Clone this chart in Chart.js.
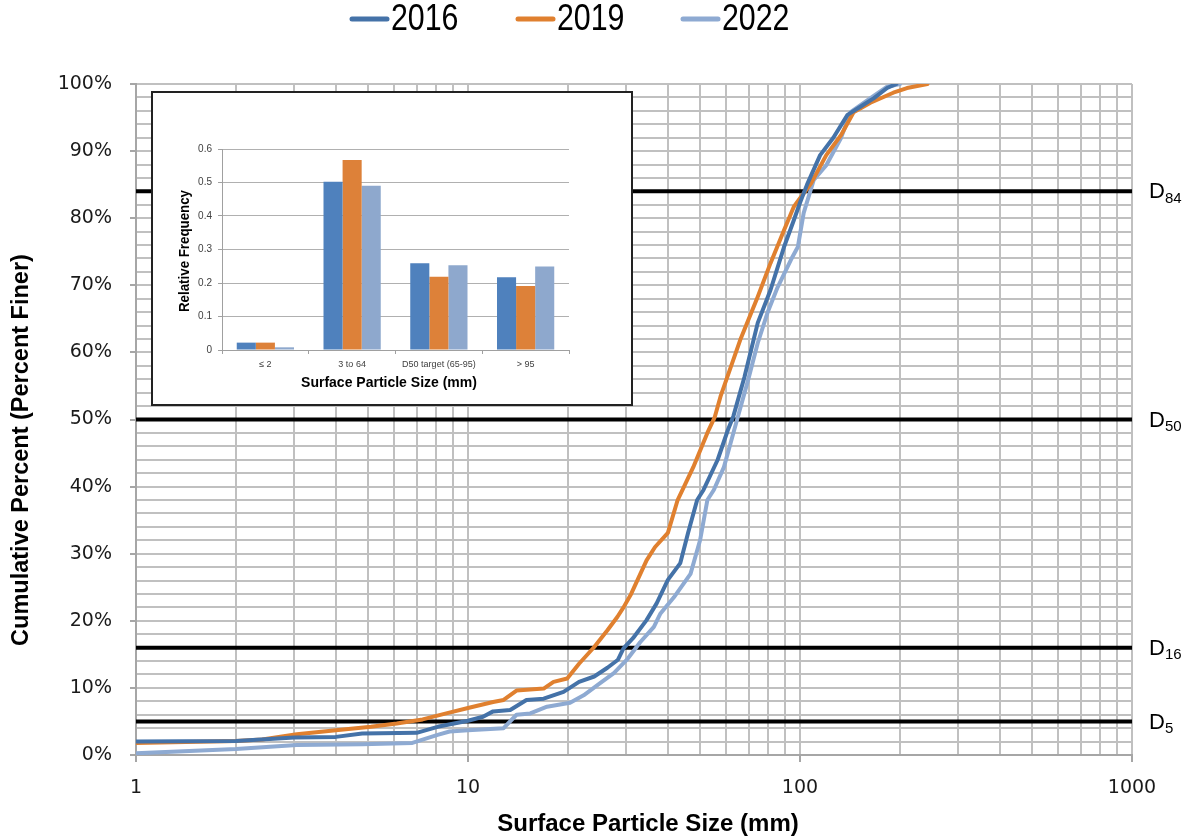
<!DOCTYPE html>
<html><head><meta charset="utf-8">
<script src="https://cdn.jsdelivr.net/npm/chart.js@4/dist/chart.umd.min.js"></script>
<style>
html,body{margin:0;padding:0;background:#fff;}
#wrap{position:relative;width:1190px;height:839px;overflow:hidden;}
#main{position:absolute;left:0;top:0;}
#inset{position:absolute;left:151px;top:91px;}
</style></head><body>
<div id="wrap">
<canvas id="main" width="1190" height="839"></canvas>
<canvas id="inset" width="482" height="315"></canvas>
</div>
<script>
// ---------- main chart data ----------
const seriesNames = ['2016', '2019', '2022'];
const x2016 = [1, 2, 3, 4, 4.8, 7, 8.1, 10, 11.1, 11.9, 13.4, 15, 16.9, 19.4, 21.6, 24, 26.3, 28.3, 29.4, 31.4, 34.5, 37, 40, 43.6, 46, 49, 51.2, 56.5, 60.6, 63, 68, 74.6, 81.5, 89.5, 95.8, 100, 105, 115, 126, 139, 152, 167, 183, 195];
const y2016 = [2.0, 2.1, 2.6, 2.7, 3.2, 3.3, 4.2, 5.1, 5.7, 6.5, 6.7, 8.2, 8.4, 9.4, 10.9, 11.7, 13.0, 14.2, 15.9, 17.4, 20.1, 22.6, 26.1, 28.6, 33.1, 38.0, 39.5, 44.0, 48.4, 50.5, 56.3, 64.4, 69.3, 75.7, 79.7, 82.3, 85.0, 89.4, 92.0, 95.4, 96.6, 97.9, 99.4, 100];
const x2019 = [1, 2, 2.4, 3.05, 4, 5.1, 6.1, 7.3, 8.6, 10, 11.9, 12.8, 14, 16.9, 18.1, 19.9, 21.6, 24, 26.3, 28.2, 29.4, 31, 34.5, 36.6, 40, 42.8, 47.7, 52.6, 55.4, 57.6, 66, 74.6, 81.5, 89.5, 95.8, 108, 120, 133, 145, 163, 191, 210, 242];
const y2019 = [1.8, 2.1, 2.3, 3.1, 3.7, 4.2, 4.7, 5.3, 6.2, 7.0, 7.9, 8.2, 9.6, 9.9, 10.9, 11.4, 13.6, 16.1, 18.6, 20.6, 22.0, 24.0, 29.0, 31.0, 33.1, 38.0, 42.9, 48.0, 50.4, 53.4, 61.8, 68.3, 73.3, 78.2, 81.7, 85.2, 89.4, 92.4, 95.8, 97.2, 98.7, 99.4, 100];
const x2022 = [1, 2, 3.05, 4.8, 6.8, 8.1, 8.8, 10, 12.8, 14, 15.4, 17.3, 20.3, 22.3, 25, 27.5, 30.1, 33, 36.3, 38, 41.7, 46.8, 50, 52.6, 55, 59, 63, 65, 69.8, 74.6, 79.8, 85.6, 93.9, 98.5, 102.6, 110, 120, 133, 142, 163, 183, 200];
const y2022 = [0.25, 0.9, 1.5, 1.6, 1.8, 3.0, 3.5, 3.7, 4.0, 6.0, 6.2, 7.2, 7.8, 8.9, 10.7, 12.2, 14.2, 16.8, 19.1, 21.1, 23.5, 27.0, 32.0, 38.0, 39.5, 42.9, 48.0, 50.4, 55.9, 61.4, 65.9, 69.7, 73.8, 75.7, 80.8, 85.7, 87.9, 92.0, 95.8, 97.9, 99.6, 100];
const dLevels = [84, 50, 16, 5];
const dSubs = ['84', '50', '16', '5'];
const xGridValues = [1,2,3,4,5,6,7,8,9,10,20,30,40,50,60,70,80,90,100,200,300,400,500,600,700,800,900,1000];
const xLabelValues = [1, 10, 100, 1000];
const yGridValues = [0,2,4,6,8,10,12,14,16,18,20,22,24,26,28,30,32,34,36,38,40,42,44,46,48,50,52,54,56,58,60,62,64,66,68,70,72,74,76,78,80,82,84,86,88,90,92,94,96,98,100];
const yLabelValues = [0, 10, 20, 30, 40, 50, 60, 70, 80, 90, 100];

// ---------- inset data ----------
const insetCats = ['≤ 2', '3 to 64', 'D50 target (65-95)', '> 95'];
const freq2016 = [0.022, 0.502, 0.259, 0.217];
const freq2019 = [0.022, 0.567, 0.219, 0.191];
const freq2022 = [0.008, 0.490, 0.253, 0.249];
const insetTicks = [0, 0.1, 0.2, 0.3, 0.4, 0.5, 0.6];

const lineColors = ['#4472a8', '#e0802f', '#8eaad2'];
const barColors = ['#4f81bd', '#dd8139', '#8ea8cd'];
const NARROW = '"Liberation Sans Narrow", "Liberation Sans", Arial, sans-serif';
const WIDE = '"DejaVu Sans", Verdana, sans-serif';

const xs = [x2016, x2019, x2022], ys = [y2016, y2019, y2022];
const datasets = seriesNames.map((n, k) => ({
  label: n,
  data: xs[k].map((x, i) => ({x: x, y: ys[k][i]})),
  borderColor: lineColors[k], backgroundColor: lineColors[k],
  borderWidth: 4, pointRadius: 0, tension: 0, order: 1,
  borderJoinStyle: 'round', borderCapStyle: 'round'
}));
dLevels.forEach((d, i) => datasets.push({
  label: 'D' + dSubs[i],
  data: [{x: xGridValues[0], y: d}, {x: xGridValues[xGridValues.length - 1], y: d}],
  borderColor: '#000', borderWidth: 4, pointRadius: 0, order: 5, borderCapStyle: 'butt'
}));

// draw horizontally condensed text (mimics a narrow face)
function narrowText(ctx, txt, x, y, sx) {
  ctx.save(); ctx.translate(x, y); ctx.scale(sx, 1); ctx.fillText(txt, 0, 0); ctx.restore();
}

const legendMarkers = [350, 516, 681];
const mainText = {
  id: 'mainText',
  afterDraw(chart) {
    const ctx = chart.ctx; const ya = chart.scales.y;
    ctx.save();
    // legend
    ctx.font = '37px ' + NARROW;
    const ly = 19;
    seriesNames.forEach((n, i) => {
      const x = legendMarkers[i];
      ctx.strokeStyle = lineColors[i]; ctx.lineWidth = 5; ctx.lineCap = 'round';
      ctx.beginPath(); ctx.moveTo(x + 2, ly); ctx.lineTo(x + 37, ly); ctx.stroke();
      ctx.fillStyle = '#000'; ctx.textBaseline = 'middle'; ctx.textAlign = 'left';
      narrowText(ctx, n, x + 41, ly + 1, 0.82);
    });
    // axis titles
    ctx.fillStyle = '#000';
    ctx.textAlign = 'center'; ctx.textBaseline = 'middle';
    ctx.font = 'bold 24px ' + NARROW;
    narrowText(ctx, 'Surface Particle Size (mm)', 648, 824, 1.0);
    ctx.font = 'bold 23.5px ' + NARROW;
    ctx.save(); ctx.translate(22, 450); ctx.rotate(-Math.PI / 2);
    ctx.fillText('Cumulative Percent (Percent Finer)', 0, 0); ctx.restore();
    // D labels
    dLevels.forEach((d, i) => {
      const py = ya.getPixelForValue(d);
      ctx.textAlign = 'left'; ctx.textBaseline = 'middle';
      ctx.font = '22px ' + NARROW; ctx.fillText('D', 1149, py + 1);
      const w = ctx.measureText('D').width;
      ctx.font = '15px ' + NARROW; ctx.fillText(dSubs[i], 1149 + w, py + 7);
    });
    ctx.restore();
  }
};

new Chart(document.getElementById('main'), {
  type: 'line',
  data: {datasets},
  options: {
    responsive: false, animation: false,
    layout: {padding: {top: 84, right: 58, bottom: 0, left: 0}},
    plugins: {legend: {display: false}, tooltip: {enabled: false}},
    scales: {
      x: {
        type: 'logarithmic', min: 1, max: 1000,
        afterBuildTicks: s => { s.ticks = xGridValues.map(v => ({value: v, major: xLabelValues.includes(v)})); },
        afterFit: s => { s.height = 84; },
        ticks: {autoSkip: false, maxRotation: 0, minRotation: 0, padding: 15, color: '#1a1a1a',
          font: {family: WIDE, size: 19},
          callback: v => xLabelValues.includes(v) ? String(v) : ''},
        grid: {color: '#c0c0c0', lineWidth: 2, tickLength: 7,
          tickColor: c => (c.tick && xLabelValues.includes(c.tick.value)) ? '#a6a6a6' : 'rgba(0,0,0,0)'},
        border: {color: '#a6a6a6', width: 2}
      },
      y: {
        type: 'linear', min: 0, max: 100,
        afterBuildTicks: s => { s.ticks = yGridValues.map(v => ({value: v})); },
        afterFit: s => { s.width = 136; },
        ticks: {autoSkip: false, padding: 18, color: '#1a1a1a',
          font: {family: WIDE, size: 19},
          callback: v => yLabelValues.includes(v) ? v + '%' : ''},
        grid: {color: '#c0c0c0', lineWidth: 2, tickLength: 6,
          tickColor: c => (c.tick && yLabelValues.includes(c.tick.value)) ? '#a6a6a6' : 'rgba(0,0,0,0)'},
        border: {color: '#a6a6a6', width: 2}
      }
    }
  },
  plugins: [mainText]
});

// ---------- inset ----------
const insetFrame = {
  id: 'insetFrame',
  beforeDraw(chart) {
    const ctx = chart.ctx; ctx.save();
    ctx.fillStyle = '#fff'; ctx.fillRect(0, 0, chart.width, chart.height);
    ctx.restore();
  },
  afterDraw(chart) {
    const ctx = chart.ctx; ctx.save();
    ctx.strokeStyle = '#222'; ctx.lineWidth = 2;
    ctx.strokeRect(1, 1, chart.width - 2, chart.height - 2);
    ctx.fillStyle = '#000'; ctx.textAlign = 'center'; ctx.textBaseline = 'middle';
    ctx.font = 'bold 14px ' + NARROW;
    ctx.fillText('Surface Particle Size (mm)', 238, 292);
    ctx.font = 'bold 14px ' + NARROW;
    ctx.save(); ctx.translate(34, 160); ctx.rotate(-Math.PI / 2);
    narrowText(ctx, 'Relative Frequency', 0, 0, 0.95); ctx.restore();
    ctx.restore();
  }
};
const freqs = [freq2016, freq2019, freq2022];
new Chart(document.getElementById('inset'), {
  type: 'bar',
  data: {labels: insetCats, datasets: seriesNames.map((n, k) => ({
    label: n, data: freqs[k], backgroundColor: barColors[k], borderWidth: 0,
    categoryPercentage: 0.66, barPercentage: 1.0
  }))},
  options: {
    responsive: false, animation: false,
    layout: {padding: {top: 58, right: 64, bottom: 0, left: 0}},
    plugins: {legend: {display: false}, tooltip: {enabled: false}},
    scales: {
      x: {
        afterFit: s => { s.height = 56; },
        ticks: {color: '#404040', font: {family: NARROW, size: 9}, padding: 5, maxRotation: 0, autoSkip: false},
        grid: {drawOnChartArea: false, offset: true, tickLength: 4, color: '#a0a0a0', lineWidth: 1},
        border: {color: '#a0a0a0', width: 1}
      },
      y: {
        min: 0, max: 0.6,
        afterBuildTicks: s => { s.ticks = insetTicks.map(v => ({value: v})); },
        afterFit: s => { s.width = 71; },
        ticks: {color: '#404040', font: {family: NARROW, size: 10}, padding: 6,
          callback: v => v === 0 ? '0' : v.toFixed(1)},
        grid: {color: '#b0b0b0', lineWidth: 1, tickLength: 4, tickColor: '#a0a0a0'},
        border: {color: '#a0a0a0', width: 1}
      }
    }
  },
  plugins: [insetFrame]
});
</script>
</body></html>
